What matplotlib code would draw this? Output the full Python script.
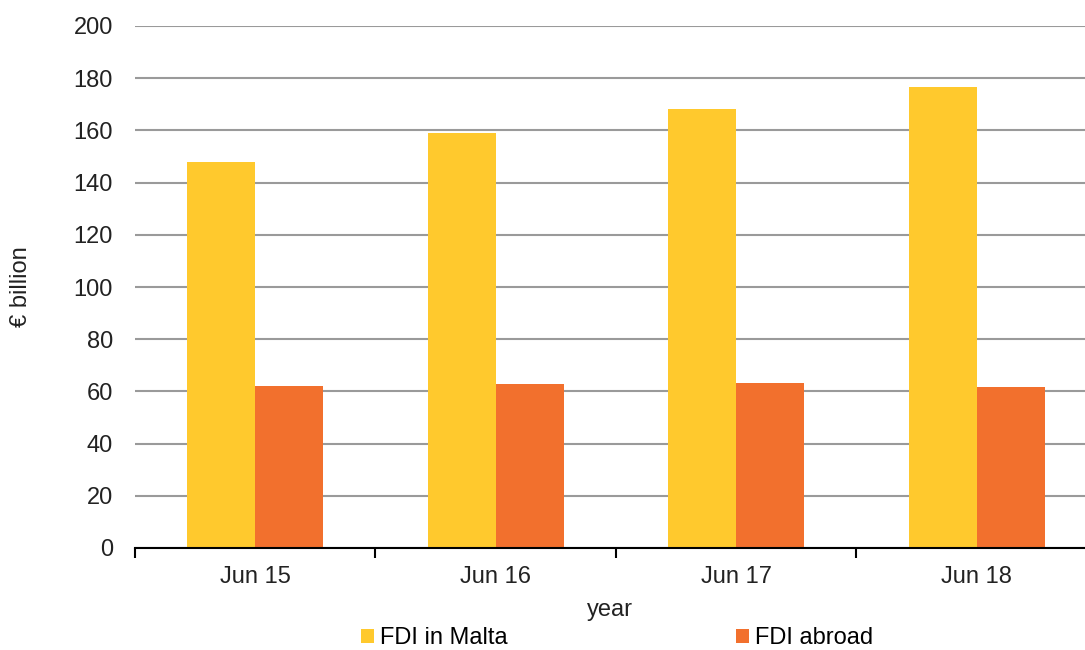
import numpy as np
from matplotlib import pyplot as plt

plt.rcParams['font.family'] = ['Liberation Sans', 'DejaVu Sans']

years = ['Jun 15', 'Jun 16', 'Jun 17', 'Jun 18']
fdi_malta = [148.0, 158.9, 168.2, 176.7]
fdi_abroad = [62.0, 62.7, 63.2, 61.7]

yellow = '#FFC92D'
orange = '#F2702D'
fs = 17

fig = plt.figure(figsize=(10.85, 6.5), dpi=100)
ax = fig.add_axes([135 / 1085, 1 - 548 / 650, 1 - 135 / 1085, (548 - 26) / 650])

x = np.arange(len(years))
w = 0.283
ax.bar(x - w / 2, fdi_malta, w, color=yellow, label='FDI in Malta', zorder=3)
ax.bar(x + w / 2, fdi_abroad, w, color=orange, label='FDI abroad', zorder=3)

ax.set_ylim(0, 200)
ax.set_xlim(-0.5, 3.451)
ax.set_yticks(range(0, 201, 20))
ax.yaxis.grid(True, color='#9A9A9A', linewidth=1.5, zorder=0)
ax.tick_params(axis='y', length=0, pad=16, labelsize=fs, colors='#222222')

ax.set_xticks(x)
ax.set_xticklabels(years)
ax.set_xticks(np.arange(-0.5, 3.0, 1.0), minor=True)
ax.tick_params(axis='x', which='major', length=0, pad=13, labelsize=fs, colors='#222222')
ax.tick_params(axis='x', which='minor', length=7, width=1.5, color='black')

for s in ['top', 'right', 'left']:
    ax.spines[s].set_visible(False)
ax.spines['bottom'].set_linewidth(1.5)
ax.spines['bottom'].set_zorder(4)

ax.set_xlabel('year', fontsize=fs, labelpad=8, color='#222222')
ax.set_ylabel('€ billion', fontsize=fs, labelpad=30, color='#222222')

fig.legend(loc='center', bbox_to_anchor=(617 / 1085, 1 - 638 / 650), ncol=2,
           frameon=False, fontsize=fs, handlelength=0.55, handleheight=0.55,
           handletextpad=0.25, columnspacing=9.7, borderaxespad=0)

fig.savefig('out.png', dpi=100)
